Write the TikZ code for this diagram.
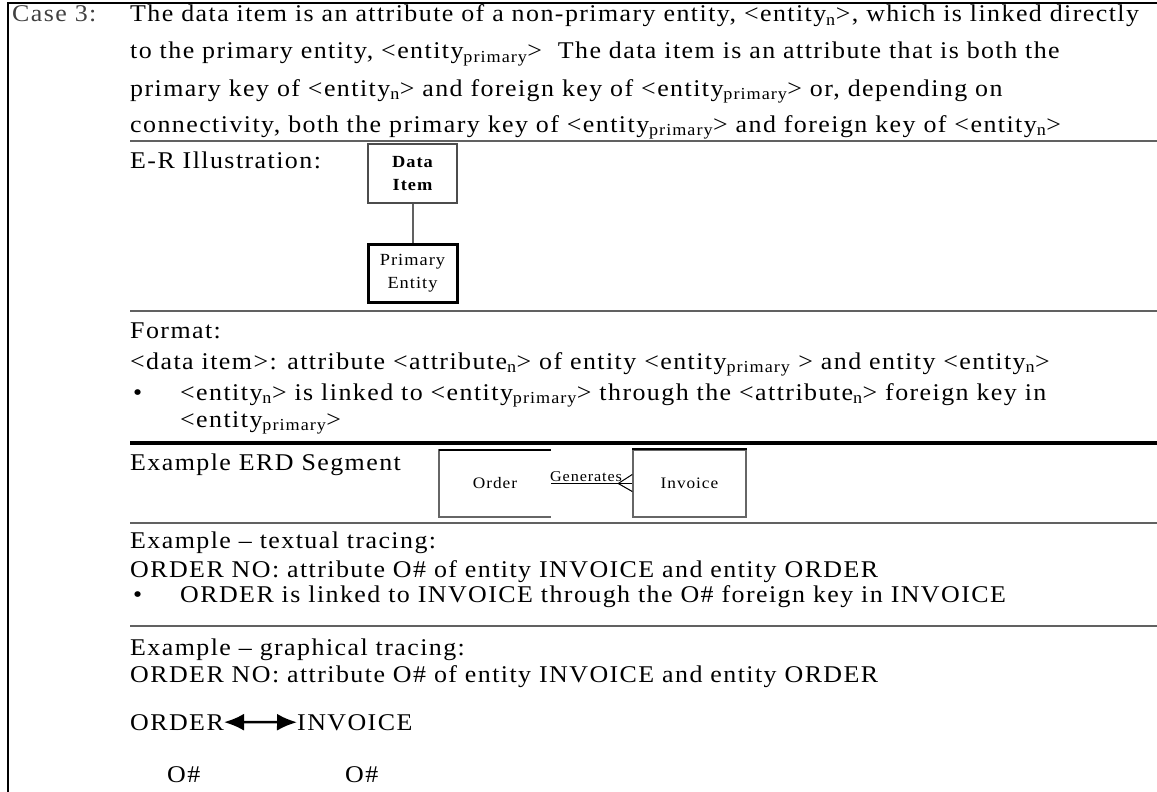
\documentclass[tikz,border=0pt]{standalone}
\usepackage{fontspec}
\setmainfont{Liberation Serif}[FakeStretch=1.08,LetterSpace=6]
\usetikzlibrary{arrows.meta}
\newcommand{\ent}[1]{<entity\textsubscript{#1}>}
\newcommand{\attr}[1]{<attribute\textsubscript{#1}>}
\begin{document}
\begin{tikzpicture}[x=1pt,y=-1pt,
  txt/.style={anchor=base west,inner sep=0pt,font=\fontsize{24}{27}\selectfont},
  rule/.style={line width=2.5pt,black!62},
  ebox/.style={draw,align=center,inner sep=0pt,minimum width=89pt,font=\fontsize{17}{23}\selectfont},
  erd/.style={inner sep=0pt,minimum width=112pt,minimum height=67pt,font=\fontsize{16}{18}\selectfont},
  twoway/.style={{Latex[length=20pt,width=17pt]}-{Latex[length=20pt,width=17pt]},line width=2.5pt}]
\useasboundingbox (0,0) rectangle (1157,792);
\draw[line width=2.5pt] (1157,3) -- (8,3) -- (8,792);
\node[txt,black!75] (case) at (12,22) {Case 3:};
\node[txt] (p1) at (130,22) {The data item is an attribute of a non-primary entity, \ent{n}, which is linked directly};
\node[txt] (p2) at (130,59) {to the primary entity, \ent{primary}\ \ The data item is an attribute that is both the};
\node[txt] (p3) at (130,96) {primary key of \ent{n} and foreign key of \ent{primary} or, depending on};
\node[txt] (p4) at (130,132) {connectivity, both the primary key of \ent{primary} and foreign key of \ent{n}};
\draw[rule] (130,141) -- (1157,141);
\node[txt] (er) at (130,168) {E-R Illustration:};
\node[ebox,draw=black!70,line width=2pt,minimum height=59pt,font=\fontsize{17}{23}\selectfont\bfseries] (item) at (412.5,173.5) {Data\\Item};
\node[ebox,line width=3pt,minimum height=58pt] (prim) at (412.5,273) {Primary\\Entity};
\draw[line width=2pt,black!62] (item) -- (prim);
\draw[rule] (130,311) -- (1157,311);
\node[txt] (fmt) at (130,338) {Format:};
\node[txt] (f1) at (130,369) {<data item>: attribute \attr{n} of entity <entity\textsubscript{primary} > and entity \ent{n}};
\node[txt] (b1) at (133,400) {•};
\node[txt] (f2) at (180,400) {\ent{n} is linked to \ent{primary} through the \attr{n} foreign key in};
\node[txt] (f3) at (180,427) {\ent{primary}};
\draw[line width=3.5pt] (130,443) -- (1157,443);
\node[txt] (seg) at (130,470) {Example ERD Segment};
\node[erd] (order) at (495,483.5) {Order};
\node[erd,draw=black!60,line width=1.5pt,minimum width=113pt] (inv) at (689.5,483.5) {Invoice};
\draw[black!60,line width=1.5pt] (order.north east) -- (order.north west) -- (order.south west) -- (order.south east);
\draw[line width=2pt] (order.north west) -- (order.north east);
\draw[line width=2pt] (inv.north west) -- (inv.north east);
\draw[line width=1pt] (order.east) -- (inv.west) node[pos=0.43,above=0pt,inner sep=1pt,font=\fontsize{15}{17}\selectfont] (gen) {Generates};
\draw[line width=1pt] (inv.west) ++(-14,0) -- ++(14,-9) ++(-14,9) -- ++(14,8);
\draw[rule] (130,523) -- (1157,523);
\node[txt] (tt) at (130,548) {Example -- textual tracing:};
\node[txt] (t1) at (130,577) {ORDER NO: attribute O\# of entity INVOICE and entity ORDER};
\node[txt] (b2) at (133,602) {•};
\node[txt] (t2) at (180,602) {ORDER is linked to INVOICE through the O\# foreign key in INVOICE};
\draw[rule] (130,626) -- (1157,626);
\node[txt] (gt) at (130,655) {Example -- graphical tracing:};
\node[txt] (g1) at (130,682) {ORDER NO: attribute O\# of entity INVOICE and entity ORDER};
\node[txt] (ord) at (130,730) {ORDER};
\node[txt] (invc) at (297,730) {INVOICE};
\draw[twoway] (ord.east) -- (invc.west);
\node[txt] (k1) at (167,782) {O\#};
\node[txt] (k2) at (345,782) {O\#};
\end{tikzpicture}
\end{document}
